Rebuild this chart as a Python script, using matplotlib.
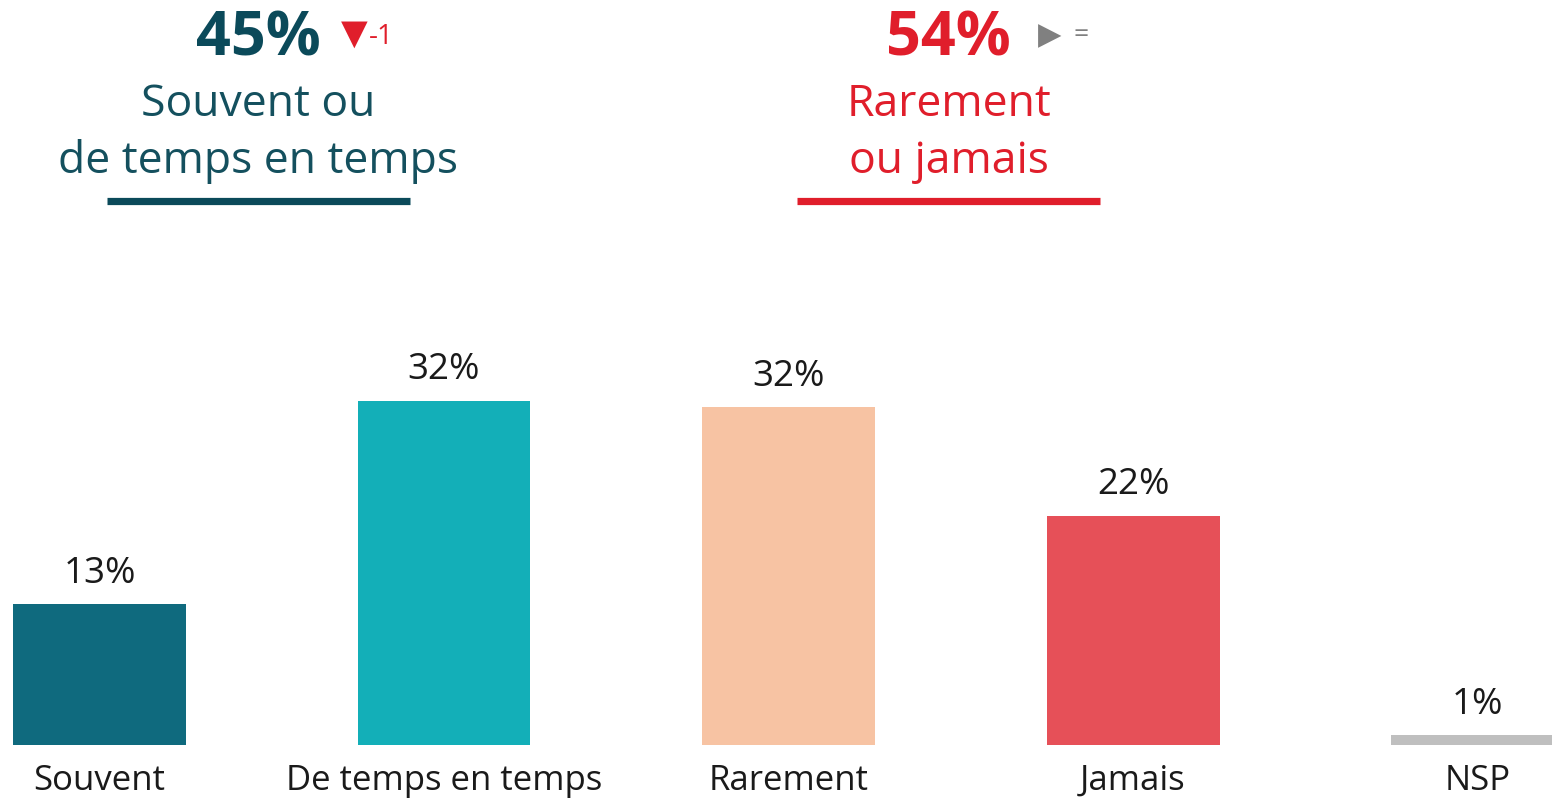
import matplotlib
matplotlib.use("Agg")
import matplotlib.pyplot as plt
from matplotlib.lines import Line2D

plt.rcParams['font.family'] = ['Open Sans', 'DejaVu Sans']

categories = ['Souvent', 'De temps en temps', 'Rarement', 'Jamais', 'NSP']
values = [13.1, 32.0, 31.4, 21.3, 0.9]
value_labels = ['13%', '32%', '32%', '22%', '1%']
colors = ['#0F6A7E', '#13AFB8', '#F7C3A3', '#E65058', '#BFBFBF']

group_left = '45%'
group_left_change = '-1'
group_left_text = ['Souvent ou', 'de temps en temps']
group_right = '54%'
group_right_change = '='
group_right_text = ['Rarement', 'ou jamais']

W, H = 1552, 800
fig = plt.figure(figsize=(W / 100, H / 100), dpi=100)
ax = fig.add_axes([0, 55 / H, 1, 515 / H])

x = list(range(len(categories)))
ax.bar(x, values, width=0.502, color=colors)
for xi, v, lab in zip(x, values, value_labels):
    ax.annotate(lab, (xi, v), xytext=(0, 15.5), textcoords='offset points',
                ha='center', va='baseline', fontsize=26.5, color='#1a1a1a')
for xi, cat in zip(x, categories):
    ax.annotate(cat, (xi, 0), xytext=(0, -32.5), textcoords='offset points',
                ha='center', va='baseline', fontsize=25, color='#1a1a1a')

ax.set_xlim(-0.2887, 4.216)
ax.set_ylim(0, 515 / 10.75)
ax.axis('off')


def px(xp, yp):
    return xp / W, 1 - yp / H


dark = '#0B4A5A'
red = '#E01E2B'
grey = '#808080'

# left header
fig.text(*px(258, 55), group_left, ha='center', va='baseline', fontsize=44,
         fontweight='bold', color=dark)
fig.text(*px(354, 44), '▼', ha='center', va='baseline', fontsize=25, color=red,
         family='DejaVu Sans')
fig.text(*px(381, 44), group_left_change, ha='center', va='baseline', fontsize=20, color=red)
for line, yb in zip(group_left_text, [116, 173]):
    fig.text(*px(258, yb), line, ha='center', va='baseline', fontsize=32, color='#14505E')
fig.add_artist(Line2D([107 / W, 410 / W], [1 - 200.5 / H] * 2, color=dark, lw=5.2,
                      solid_capstyle='butt'))

# right header
fig.text(*px(948, 55), group_right, ha='center', va='baseline', fontsize=44,
         fontweight='bold', color=red)
fig.text(*px(1050, 44), '▶', ha='center', va='baseline', fontsize=22, color=grey,
         family='DejaVu Sans')
fig.text(*px(1081, 42), group_right_change, ha='center', va='baseline', fontsize=19, color=grey)
for line, yb in zip(group_right_text, [116, 173]):
    fig.text(*px(949, yb), line, ha='center', va='baseline', fontsize=32, color=red)
fig.add_artist(Line2D([797 / W, 1100 / W], [1 - 200.5 / H] * 2, color=red, lw=5.2,
                      solid_capstyle='butt'))

fig.savefig('out.png', dpi=100)
